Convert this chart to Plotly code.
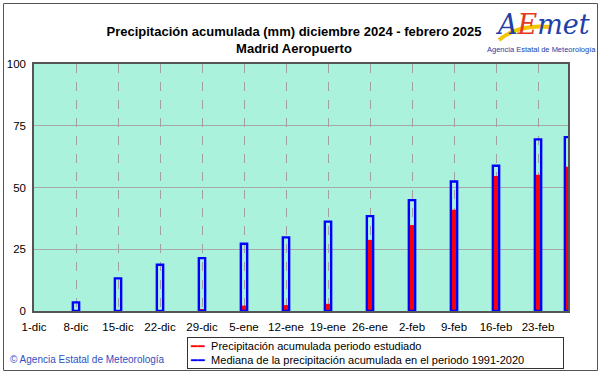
import plotly.graph_objects as go

bar_dates = ["2024-12-08", "2024-12-15", "2024-12-22", "2024-12-29", "2025-01-05",
             "2025-01-12", "2025-01-19", "2025-01-26", "2025-02-02", "2025-02-09",
             "2025-02-16", "2025-02-23", "2025-02-28"]
median_1991_2020 = [3.5, 13.2, 18.7, 21.4, 27.2, 29.8, 36.2, 38.4, 44.9, 52.4, 58.8, 69.5, 70.4]
observed = [0.0, 0.4, 0.3, 0.8, 2.2, 2.4, 2.9, 28.8, 34.8, 41.0, 54.7, 55.2, 58.4]

tick_dates = ["2024-12-01", "2024-12-08", "2024-12-15", "2024-12-22", "2024-12-29",
              "2025-01-05", "2025-01-12", "2025-01-19", "2025-01-26", "2025-02-02",
              "2025-02-09", "2025-02-16", "2025-02-23"]
tick_labels = ["1-dic", "8-dic", "15-dic", "22-dic", "29-dic", "5-ene", "12-ene",
               "19-ene", "26-ene", "2-feb", "9-feb", "16-feb", "23-feb"]
y_ticks = [0, 25, 50, 75, 100]
series_names = ["Precipitación acumulada periodo estudiado",
                "Mediana de la precipitación acumulada en el periodo 1991-2020"]
series_colors = ["#ff0000", "#0000ff"]

DAY = 86400000
FONT = "Liberation Sans, Arial, sans-serif"

fig = go.Figure()
fig.add_trace(go.Bar(x=bar_dates, y=observed, width=[0.8 * DAY] * len(bar_dates),
                     name=series_names[0],
                     marker=dict(color=series_colors[0], line=dict(width=0)),
                     showlegend=False, hoverinfo="x+y"))
fig.add_trace(go.Bar(x=bar_dates, y=median_1991_2020, width=[1.05 * DAY] * len(bar_dates),
                     name=series_names[1],
                     marker=dict(color="rgba(0,0,0,0)", line=dict(color=series_colors[1], width=2.4)),
                     showlegend=False, hoverinfo="x+y"))

L, R, T, B = 34, 33, 64, 63
W, H = 601, 374
pw, ph = W - L - R, H - T - B

def px(x):
    return (x - L) / pw

def py(y):
    return (H - B - y) / ph

legend_text = "<br>".join(
    f"<span style='color:{c}'>━━</span>&nbsp;&nbsp;{n}" for n, c in zip(series_names, series_colors)
)

fig.update_layout(
    width=W, height=H,
    margin=dict(l=L, r=R, t=T, b=B, autoexpand=False),
    paper_bgcolor="white",
    plot_bgcolor="#aaf2dc",
    barmode="overlay",
    showlegend=False,
    font=dict(family=FONT, size=11, color="#000000"),
    title=dict(text="<b>Precipitación acumulada (mm) diciembre 2024 - febrero 2025<br>Madrid Aeropuerto</b>",
               x=294 / W, xanchor="center", y=1 - 36 / H, yanchor="middle",
               font=dict(family=FONT, size=13, color="#000000")),
    xaxis=dict(type="date", range=["2024-12-01", "2025-02-28"],
               tickvals=tick_dates, ticktext=tick_labels, ticks="",
               showgrid=True, gridcolor="#a0a0a0", griddash="dash", gridwidth=1,
               showline=True, linecolor="#555555", linewidth=1.5, mirror=True,
               tickfont=dict(size=11.5, color="#000000"), ticklabelstandoff=4,
               zeroline=False, automargin=False),
    yaxis=dict(range=[0, 100], tickvals=y_ticks, ticks="",
               showgrid=True, gridcolor="#a8a8a8", gridwidth=1,
               showline=True, linecolor="#555555", linewidth=1.5, mirror=True,
               tickfont=dict(size=11.5, color="#000000"), ticklabelstandoff=4,
               zeroline=False, automargin=False),
    shapes=[
        dict(type="rect", xref="paper", yref="paper",
             x0=px(3.5), x1=px(597.5), y0=py(370.5), y1=py(3.5),
             line=dict(color="#555555", width=1)),
        dict(type="path", xref="paper", yref="paper",
             path=f"M {px(499)} {py(40)} Q {px(518)} {py(24)} {px(550)} {py(27)}",
             line=dict(color="#f2c500", width=4)),
    ],
    annotations=[
        dict(text=legend_text, xref="paper", yref="paper", x=px(187), y=py(337),
             xanchor="left", yanchor="top", align="left", showarrow=False,
             width=371, borderpad=2, bgcolor="white", bordercolor="#333333", borderwidth=1,
             font=dict(family=FONT, size=11, color="#000000")),
        dict(text="<i><span style='color:#2040a8'>A</span><span style='color:#e53a1e'>E</span><span style='color:#2040a8'>met</span></i>",
             xref="paper", yref="paper", x=px(542), y=py(24), xanchor="center", yanchor="middle",
             showarrow=False, font=dict(family="DejaVu Serif, serif", size=27)),
        dict(text="Agencia Estatal de Meteorología",
             xref="paper", yref="paper", x=px(541), y=py(50), xanchor="center", yanchor="middle",
             showarrow=False, font=dict(family=FONT, size=7.5, color="#2040a8")),
        dict(text="© Agencia Estatal de Meteorología",
             xref="paper", yref="paper", x=px(8), y=py(359), xanchor="left", yanchor="middle",
             showarrow=False, font=dict(family=FONT, size=10, color="#3050c0")),
    ],
)

fig.write_html("out.html", config={"displayModeBar": False},
               post_script="document.body.style.margin='0px';document.body.style.overflow='hidden';")
